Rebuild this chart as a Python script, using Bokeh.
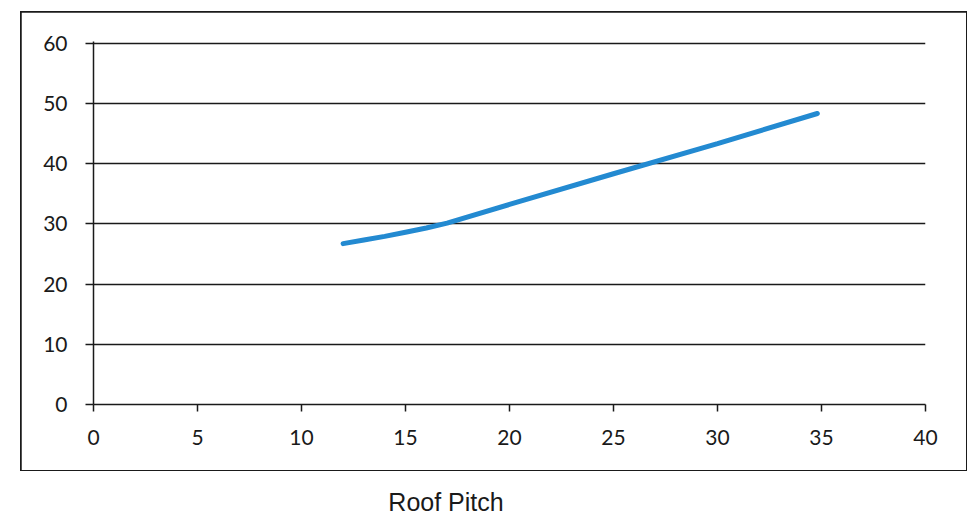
from bokeh.plotting import figure
from bokeh.models import FixedTicker, Range1d, Div
from bokeh.layouts import column
from bokeh.embed import file_html
from bokeh.resources import INLINE

# Roof pitch (degrees) against the plotted quantity
pitch = [12, 13, 14, 15, 16, 17, 20, 25, 30, 34.8]
amount = [26.7, 27.3, 27.9, 28.6, 29.3, 30.1, 33.2, 38.3, 43.3, 48.3]

x_ticks = [0, 5, 10, 15, 20, 25, 30, 35, 40]
y_ticks = [0, 10, 20, 30, 40, 50, 60]
x_title = "Roof Pitch"

INK = "#1a1a1a"

# boxed chart area
p = figure(width=945, height=458, output_backend="svg", toolbar_location=None,
           x_range=Range1d(0, 40), y_range=Range1d(0, 60.25),
           min_border_left=72, min_border_right=41,
           min_border_top=29, min_border_bottom=66)
p.margin = (12, 0, 0, 21)
p.styles = {"outline": f"2px solid {INK}", "outline-offset": "-1px"}
p.outline_line_color = None
p.background_fill_color = "white"
p.border_fill_color = "white"

p.line(pitch, amount, line_color="#238ad1", line_width=5, line_cap="round")

p.xgrid.grid_line_color = None
p.ygrid.grid_line_color = INK
p.ygrid.grid_line_width = 1.5
p.ygrid.ticker = FixedTicker(ticks=y_ticks)

p.xaxis.ticker = FixedTicker(ticks=x_ticks)
p.yaxis.ticker = FixedTicker(ticks=y_ticks)
for ax in (p.xaxis[0], p.yaxis[0]):
    ax.axis_line_color = INK
    ax.axis_line_width = 1.5
    ax.major_tick_line_color = INK
    ax.major_tick_line_width = 1.5
    ax.major_tick_in = 0
    ax.minor_tick_line_color = None
    ax.major_label_text_font = "Lato"
    ax.major_label_text_font_size = "21px"
    ax.major_label_text_color = INK
p.xaxis.major_tick_out = 7
p.yaxis.major_tick_out = 8
p.xaxis.major_label_standoff = 18
p.yaxis.major_label_standoff = 18

# axis title sits below the box
title = Div(text=x_title, width=200, height=30, margin=(18, 0, 0, 346),
            styles={"font-family": "'Liberation Sans', Arial, sans-serif",
                    "font-size": "25px", "color": INK, "text-align": "center",
                    "line-height": "29px"})

layout = column(p, title)
open("out.html", "w").write(file_html(layout, INLINE))
